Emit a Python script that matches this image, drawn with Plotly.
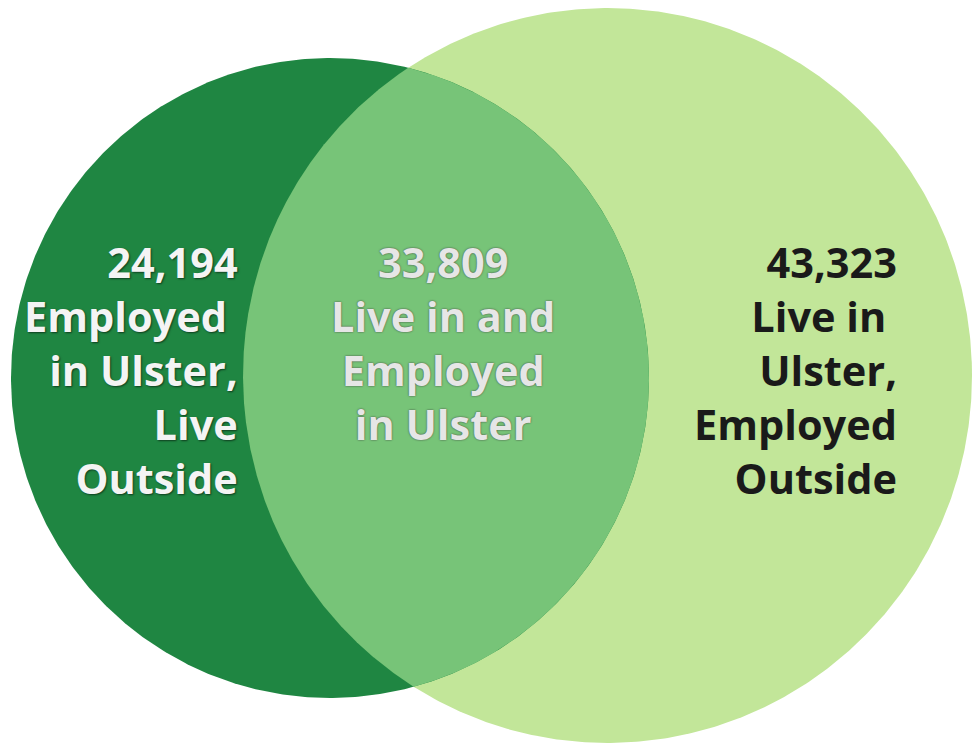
import numpy as np
import plotly.graph_objects as go

# ---- data ----
values = [24194, 33809, 43323]
labels = [
    "Employed <br>in Ulster,<br>Live<br>Outside",
    "Live in and<br>Employed<br>in Ulster",
    "Live in <br>Ulster,<br>Employed<br>Outside",
]

# ---- geometry (pixel-space) ----
W, H = 974, 747
L_c, L_r = (330.0, 378.0), (319.0, 320.0)   # "Employed in Ulster" circle
R_c, R_r = (607.5, 375.5), (364.5, 367.5)   # "Live in Ulster" circle

col_dark = "#1f8642"
col_mid = "#77c478"
col_light = "#c2e699"


def ellipse(c, r, t):
    return c[0] + r[0] * np.cos(t), c[1] + r[1] * np.sin(t)


def inside(x, y, c, r):
    return ((x - c[0]) / r[0]) ** 2 + ((y - c[1]) / r[1]) ** 2 <= 1.0


t_full = np.linspace(0, 2 * np.pi, 721)
lx, ly = ellipse(L_c, L_r, t_full)
rx, ry = ellipse(R_c, R_r, t_full)

# lens (intersection)
ta = np.linspace(-np.pi, np.pi, 4001)
ax_, ay_ = ellipse(L_c, L_r, ta)
m1 = inside(ax_, ay_, R_c, R_r)
tb = np.linspace(0, 2 * np.pi, 4001)
bx_, by_ = ellipse(R_c, R_r, tb)
m2 = inside(bx_, by_, L_c, L_r)
lens_x = np.concatenate([ax_[m1], bx_[m2]])
lens_y = np.concatenate([ay_[m1], by_[m2]])

fig = go.Figure()
for xs, ys, col in [(rx, ry, col_light), (lx, ly, col_dark), (lens_x, lens_y, col_mid)]:
    fig.add_trace(go.Scatter(x=xs, y=ys, mode="lines", fill="toself",
                             fillcolor=col, line=dict(width=0, color=col),
                             hoverinfo="skip", showlegend=False))

font_family = "Open Sans"
fs = 41.5
texts = [f"{v:,}<br>{lab}" for v, lab in zip(values, labels)]

fig.add_annotation(x=240, y=370, xref="x", yref="y", text=texts[0], showarrow=False,
                   xanchor="right", yanchor="middle", align="right",
                   font=dict(family=font_family, size=fs, color="#f4f4f4", weight="bold",
                             shadow="1px 1px 2px rgba(0,0,0,0.55)"))
fig.add_annotation(x=443, y=343, xref="x", yref="y", text=texts[1], showarrow=False,
                   xanchor="center", yanchor="middle", align="center",
                   font=dict(family=font_family, size=fs, color="#e6e6e6", weight="bold",
                             shadow="0px 0px 2px #3c3c3c"))
fig.add_annotation(x=899, y=370, xref="x", yref="y", text=texts[2], showarrow=False,
                   xanchor="right", yanchor="middle", align="right",
                   font=dict(family=font_family, size=fs, color="#1a1a1a", weight="bold"))

fig.update_xaxes(range=[0, W], visible=False, fixedrange=True)
fig.update_yaxes(range=[H, 0], visible=False, fixedrange=True)
fig.update_layout(width=W, height=H, margin=dict(l=0, r=0, t=0, b=0),
                  paper_bgcolor="white", plot_bgcolor="white", showlegend=False)

fig.write_html("out.html", config={"displayModeBar": False},
               post_script="document.body.style.margin='0';document.body.style.overflow='hidden';")
